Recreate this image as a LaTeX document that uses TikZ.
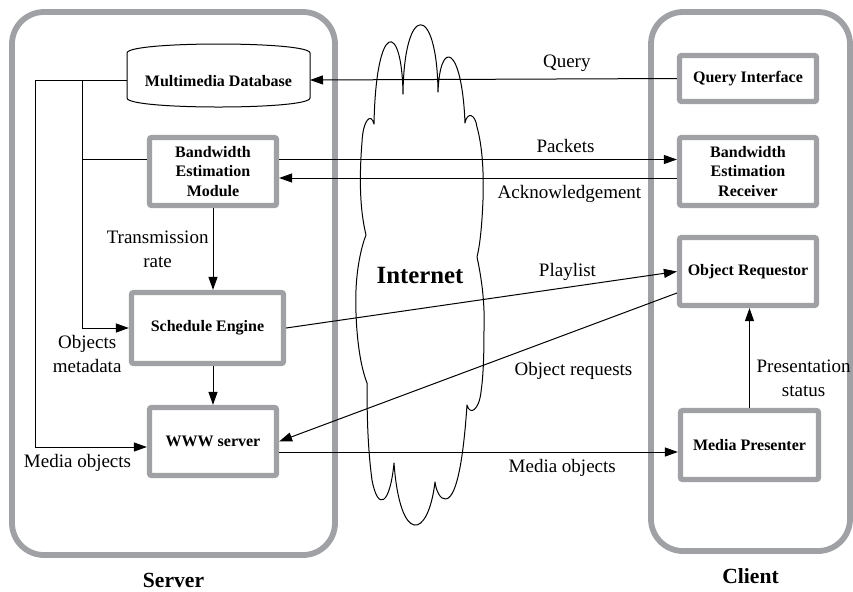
\documentclass[tikz,border=0pt]{standalone}
\usepackage[dvipsnames]{xcolor}
\usepackage{fontspec}
\setmainfont{Liberation Serif}
\usepackage{tikz}
\usetikzlibrary{arrows.meta,positioning}
\definecolor{framegray}{RGB}{160,161,165}
\tikzset{
  every node/.style={
    font=\fontsize{9.5}{12}\selectfont,
    align=center
  },
  module/.style={
    shape=rectangle,
    draw=framegray,
    line width=2.6pt,
    rounded corners=1pt,
    fill=white,
    font=\fontsize{8}{9.75}\selectfont\bfseries
  },
  store/.style={
    shape=rectangle,
    inner sep=0pt,
    outer sep=0pt,
    minimum width=91.5pt,
    minimum height=22.5pt,
    text height=11pt,
    text depth=0.4pt,
    font=\fontsize{8}{9.75}\selectfont\bfseries
  },
  panel/.style={
    shape=rectangle,
    draw=framegray,
    line width=2.9pt,
    rounded corners=16pt
  },
  panel title/.style={
    font=\fontsize{10.8}{13}\selectfont\bfseries
  },
  flow/.style={
    draw=black,
    line width=0.5pt,
    -{Triangle[length=6.5pt,width=4.5pt]}
  },
  wire/.style={
    draw=black,
    line width=0.5pt
  },
  cloud line/.style={
    draw=black,
    line width=0.5pt,
    line join=round
  }
}

\begin{document}
\begin{tikzpicture}[x=0.5pt,y=-0.5pt]
  \useasboundingbox (0,0) rectangle (853,591);
  % server and client frames
  \node [panel, minimum width=161.5pt, minimum height=271.5pt] (server) at (173.5,283.5) {};
  \node [panel, minimum width=99.5pt, minimum height=269.5pt] (client) at (750.5,281.5) {};
  \node [panel title, below=4pt of server] (servertitle) {Server};
  \node [panel title, below=4pt of client] (clienttitle) {Client};

  % server side
  \node [store] (db) at (218.5,75.5) {Multimedia Database};
  \draw [wire] (db.north west) .. controls ([yshift=6pt]db.north west) and ([yshift=6pt]db.north east) .. (db.north east)
    -- (db.south east) .. controls ([yshift=-6pt]db.south east) and ([yshift=-6pt]db.south west) .. (db.south west) -- cycle;
  \node [module, minimum width=63.5pt, minimum height=34pt] (bem) at (213,171.5) {Bandwidth\\Estimation\\Module};
  \node [module, minimum width=76pt, minimum height=35.5pt] (sched) at (207.5,328) {Schedule Engine};
  \node [module, minimum width=63.5pt, minimum height=34pt] (www) at (213,441.5) {WWW server};

  % client side
  \node [module, minimum width=68.5pt, minimum height=23pt] (query) at (748,78.5) {Query Interface};
  \node [module, minimum width=68.5pt, minimum height=34pt] (ber) at (748,171.5) {Bandwidth\\Estimation\\Receiver};
  \node [module, minimum width=68.5pt, minimum height=34pt] (req) at (748,271.5) {Object Requestor};
  \node [module, minimum width=69pt, minimum height=34.5pt] (pres) at (749.5,445) {Media Presenter};

  % the internet cloud
  \draw [cloud line]
    (362,142) .. controls (363,120) and (371,112) .. (374,124)
    .. controls (376,20) and (402,20) .. (403,94)
    .. controls (404,2) and (437,2) .. (438,92)
    .. controls (440,38) and (462,45) .. (465,123)
    .. controls (467,112) and (475,113) .. (477,127)
    .. controls (482,145) and (484,170) .. (483,200)
    .. controls (482,225) and (480,245) .. (477,257)
    .. controls (482,280) and (485,305) .. (484,330)
    .. controls (484,360) and (483,378) .. (481,392)
    .. controls (479,410) and (470,416) .. (467,405)
    .. controls (464,450) and (458,497) .. (446,499)
    .. controls (440,500) and (436,490) .. (435,482)
    .. controls (428,540) and (400,545) .. (394,463)
    .. controls (390,505) and (378,512) .. (372,480)
    .. controls (368,450) and (367,420) .. (367,383)
    .. controls (358,360) and (355,320) .. (356,290)
    .. controls (357,265) and (362,245) .. (366,235)
    .. controls (360,210) and (359,180) .. (362,142) -- cycle;
  \node [font=\fontsize{12.4}{15}\selectfont\bfseries] (internet) at (420,275) {Internet};

  % connectors across the internet
  \draw [flow] (query.west) -- node [above, pos=0.3] {Query} ([yshift=-2.25pt]db.east);
  \draw [flow] ([yshift=6pt]bem.east) -- node [above, pos=0.72] {Packets} ([yshift=6pt]bem.east -| ber.west);
  \draw [flow] ([yshift=-3.25pt]ber.west) -- node [below, pos=0.27] {Acknowledgement} ([yshift=-3.25pt]ber.west -| bem.east);
  \draw [flow] (sched.east) -- node [above, pos=0.72] {Playlist} (req.west);
  \draw [flow] ([yshift=-10.75pt]req.west) -- node [below=12pt, pos=0.26] {Object requests} (www.east);
  \draw [flow] ([yshift=-5.25pt]www.east) -- node [below, pos=0.71] {Media objects} ([yshift=-5.25pt]www.east -| pres.west);
  \draw [flow] (pres.north) -- node [right, pos=0.3] {Presentation\\status} (pres.north |- req.south);

  % inside the server
  \draw [flow] (bem.south) -- node [left, pos=0.5, inner sep=2pt] {Transmission\\rate} (bem.south |- sched.north);
  \draw [flow] (www.north |- sched.south) -- (www.north);
  \path ([yshift=-2.25pt]db.west) ++(-45,0) coordinate (tap);
  \draw [flow] ([yshift=-2.25pt]db.west) -- ++(-92,0) coordinate (dbfeed)
    |- node [below, pos=0.69] {Media objects} ([yshift=-2.75pt]www.west);
  \draw [flow] (tap) |- node [below, pos=0.555] {Objects\\metadata} (sched.west);
  \draw [wire] ([yshift=6pt]bem.west) -- ([yshift=6pt]bem.west -| tap);
\end{tikzpicture}
\end{document}
